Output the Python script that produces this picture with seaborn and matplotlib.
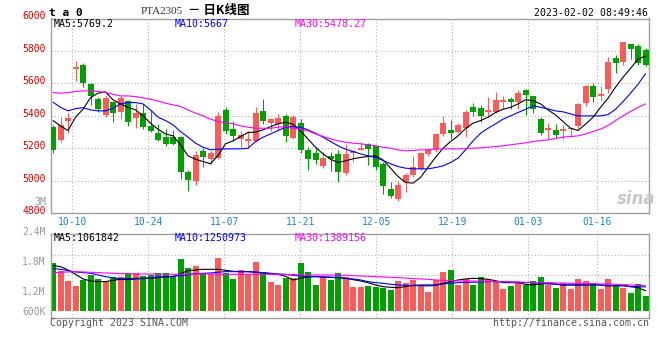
import numpy as np
import pandas as pd
import seaborn as sns
import matplotlib
matplotlib.use("Agg")
import matplotlib.pyplot as plt
from matplotlib.transforms import ScaledTranslation

# ---- daily K-line data, PTA2305 (Sep 29 2022 .. Feb 2 2023, 80 sessions)
opens = [5334, 5252, 5371, 5689, 5716, 5597, 5504, 5406, 5488, 5427, 5492, 5390, 5416, 5336, 5297, 5267,
         5267, 5267, 5053, 4996, 5184, 5137, 5143, 5437, 5320, 5258, 5246, 5246, 5433, 5359, 5349, 5400,
         5262, 5355, 5191, 5170, 5094, 5150, 5166, 5051, 5174, 5191, 5226, 5217, 5105, 4949, 4889, 4992,
         5033, 5072, 5166, 5197, 5289, 5314, 5303, 5328, 5453, 5447, 5427, 5427, 5488, 5504, 5488, 5560,
         5523, 5381, 5314, 5314, 5308, 5318, 5338, 5482, 5584, 5523, 5566, 5757, 5732, 5843, 5831, 5806]
highs = [5344, 5396, 5416, 5738, 5728, 5600, 5519, 5527, 5492, 5523, 5496, 5474, 5474, 5437, 5349, 5318,
         5314, 5277, 5068, 5182, 5201, 5184, 5426, 5453, 5369, 5308, 5308, 5453, 5504, 5390, 5412, 5412,
         5406, 5381, 5211, 5201, 5176, 5176, 5187, 5228, 5187, 5240, 5232, 5221, 5119, 4990, 5002, 5047,
         5150, 5180, 5201, 5297, 5400, 5375, 5355, 5437, 5482, 5465, 5515, 5548, 5523, 5519, 5560, 5566,
         5525, 5392, 5359, 5349, 5344, 5334, 5482, 5589, 5601, 5584, 5761, 5775, 5855, 5843, 5843, 5820]
lows = [5174, 5242, 5297, 5615, 5576, 5465, 5427, 5392, 5365, 5381, 5338, 5328, 5320, 5303, 5246, 5215,
        5219, 5012, 4940, 4975, 5088, 5105, 5137, 5287, 5246, 5211, 5211, 5242, 5351, 5310, 5314, 5242,
        5258, 5170, 5068, 5105, 5082, 5063, 4990, 5033, 5119, 5187, 5098, 5068, 4920, 4893, 4873, 4934,
        5022, 5068, 5150, 5180, 5277, 5258, 5293, 5273, 5400, 5365, 5396, 5420, 5441, 5441, 5441, 5406,
        5416, 5283, 5256, 5262, 5256, 5273, 5322, 5463, 5488, 5498, 5543, 5662, 5716, 5751, 5714, 5707]
closes = [5191, 5345, 5390, 5699, 5605, 5525, 5443, 5511, 5416, 5511, 5365, 5416, 5334, 5308, 5252, 5228,
          5226, 5057, 5006, 5160, 5148, 5170, 5400, 5310, 5277, 5283, 5258, 5420, 5371, 5379, 5390, 5277,
          5392, 5187, 5135, 5129, 5143, 5137, 5057, 5166, 5184, 5205, 5199, 5088, 4971, 4908, 4975, 5033,
          5088, 5170, 5187, 5289, 5359, 5297, 5344, 5427, 5427, 5400, 5437, 5498, 5498, 5488, 5543, 5529,
          5441, 5297, 5328, 5285, 5318, 5328, 5474, 5584, 5515, 5535, 5732, 5728, 5855, 5810, 5724, 5714]

# moving average lines as drawn on the chart
ma5 = [5371, 5338, 5310, 5392, 5441, 5513, 5540, 5548, 5499, 5474, 5453, 5437, 5400, 5355, 5318, 5289,
       5277, 5222, 5154, 5133, 5119, 5105, 5156, 5228, 5246, 5273, 5298, 5300, 5314, 5334, 5351, 5361,
       5349, 5308, 5257, 5207, 5166, 5133, 5113, 5123, 5136, 5144, 5150, 5154, 5129, 5078, 5027, 4990,
       4986, 5021, 5084, 5144, 5201, 5242, 5277, 5322, 5355, 5371, 5392, 5421, 5441, 5453, 5474, 5499,
       5494, 5474, 5437, 5406, 5365, 5324, 5310, 5349, 5392, 5453, 5509, 5577, 5638, 5693, 5749, 5769]
ma10 = [5484, 5453, 5431, 5445, 5451, 5437, 5431, 5431, 5447, 5474, 5482, 5482, 5474, 5437, 5392, 5371,
        5345, 5304, 5269, 5232, 5207, 5191, 5195, 5197, 5197, 5197, 5201, 5242, 5269, 5289, 5310, 5330,
        5334, 5330, 5314, 5293, 5269, 5242, 5216, 5195, 5181, 5166, 5154, 5144, 5125, 5105, 5088, 5078,
        5074, 5074, 5074, 5082, 5092, 5113, 5140, 5191, 5246, 5293, 5324, 5351, 5380, 5400, 5421, 5441,
        5462, 5453, 5443, 5431, 5425, 5412, 5400, 5400, 5400, 5400, 5408, 5441, 5488, 5540, 5595, 5660]
ma30 = [5544, 5540, 5544, 5550, 5554, 5554, 5550, 5544, 5533, 5523, 5523, 5519, 5511, 5503, 5492, 5478,
        5468, 5458, 5437, 5417, 5400, 5380, 5365, 5359, 5351, 5339, 5330, 5324, 5324, 5324, 5330, 5334,
        5324, 5318, 5308, 5289, 5273, 5259, 5246, 5238, 5232, 5228, 5222, 5216, 5207, 5201, 5191, 5185,
        5187, 5191, 5191, 5195, 5197, 5197, 5197, 5199, 5201, 5203, 5207, 5211, 5216, 5222, 5228, 5234,
        5242, 5248, 5252, 5261, 5269, 5273, 5277, 5289, 5304, 5318, 5341, 5371, 5400, 5427, 5453, 5474]

# volume (thousand lots) and its moving averages
volume = [1733, 1544, 1300, 1190, 1324, 1442, 1348, 1285, 1403, 1403, 1481, 1481, 1418, 1442, 1481, 1497,
          1403, 1819, 1615, 1662, 1497, 1465, 1851, 1481, 1348, 1560, 1465, 1756, 1520, 1285, 1206, 1363,
          1379, 1733, 1520, 1206, 1403, 1324, 1497, 1403, 1167, 1167, 1190, 1167, 1143, 1088, 1300, 1261,
          1324, 1190, 1049, 1324, 1520, 1560, 1206, 1348, 1206, 1387, 1348, 1300, 1112, 1182, 1285, 1206,
          1300, 1403, 1206, 1143, 1245, 1112, 1348, 1300, 1261, 1104, 1348, 1206, 1143, 1025, 1222, 954]
vol_ma5 = [1662, 1638, 1560, 1458, 1348, 1300, 1285, 1285, 1316, 1340, 1332, 1348, 1355, 1363, 1379, 1395,
           1403, 1473, 1544, 1560, 1575, 1575, 1575, 1552, 1528, 1520, 1520, 1505, 1489, 1473, 1458, 1410,
           1324, 1363, 1395, 1403, 1395, 1387, 1379, 1363, 1332, 1300, 1261, 1206, 1167, 1151, 1143, 1167,
           1198, 1206, 1206, 1206, 1245, 1285, 1324, 1348, 1363, 1355, 1340, 1308, 1261, 1261, 1261, 1222,
           1206, 1230, 1245, 1230, 1206, 1206, 1206, 1206, 1214, 1206, 1182, 1190, 1206, 1167, 1143, 1070]
vol_ma10 = [1591, 1575, 1544, 1513, 1497, 1481, 1442, 1403, 1371, 1355, 1355, 1363, 1363, 1379, 1395, 1403,
            1410, 1426, 1450, 1473, 1481, 1489, 1505, 1520, 1520, 1520, 1520, 1513, 1497, 1481, 1465, 1458,
            1434, 1418, 1403, 1403, 1395, 1387, 1379, 1363, 1348, 1324, 1285, 1261, 1245, 1222, 1206, 1198,
            1190, 1190, 1182, 1198, 1230, 1245, 1261, 1269, 1269, 1277, 1285, 1285, 1285, 1277, 1269, 1261,
            1261, 1245, 1230, 1222, 1206, 1206, 1206, 1206, 1206, 1206, 1198, 1190, 1182, 1167, 1167, 1159]
vol_ma30 = [1497, 1505, 1513, 1520, 1513, 1505, 1497, 1489, 1481, 1473, 1473, 1465, 1465, 1465, 1458, 1458,
            1458, 1458, 1465, 1465, 1465, 1465, 1458, 1458, 1458, 1458, 1458, 1458, 1458, 1458, 1458, 1450,
            1450, 1442, 1442, 1442, 1442, 1442, 1434, 1434, 1426, 1418, 1410, 1403, 1395, 1387, 1379, 1371,
            1355, 1348, 1340, 1324, 1316, 1308, 1300, 1300, 1300, 1292, 1292, 1285, 1285, 1277, 1277, 1269,
            1269, 1261, 1261, 1253, 1253, 1245, 1245, 1237, 1237, 1230, 1230, 1222, 1214, 1206, 1198, 1190]

date_labels = ["10-10", "10-24", "11-07", "11-21", "12-05", "12-19", "01-03", "01-16"]
date_idx = [2, 12, 22, 32, 42, 52, 62, 71]

RED = "#ff5a5a"
GREEN = "#00a000"
GRID = "#b4b4b4"
FRAME = "#a0a0a0"

sns.set_theme(style="white")
plt.rcParams["font.family"] = ["DejaVu Sans Mono", "Noto Sans CJK SC"]

W, H = 660, 360
fig = plt.figure(figsize=(6.6, 3.6), dpi=100)


def fx(x):
    return x / W


def fy(y):
    return 1 - y / H


ax = fig.add_axes([fx(50.7), fy(213.3), fx(649.3 - 50.7), (213.3 - 18.5) / H])
axv = fig.add_axes([fx(50.7), fy(317.7), fx(649.3 - 50.7), (317.7 - 234.3) / H])

df = pd.DataFrame({"open": opens, "high": highs, "low": lows, "close": closes,
                   "vol": volume})
df["i"] = np.arange(len(df))
df["color"] = np.where(df["close"] >= df["open"], RED, GREEN)
df["body_lo"] = df[["open", "close"]].min(axis=1)
df["body_h"] = (df["close"] - df["open"]).abs().clip(lower=5)

# sina's grid step is 7.6 px while the candles are 7.5 px apart
grid_x = np.array(date_idx) * 7.6 / 7.5 + 0.54
xlim = (-0.31, 79.5)

# ---- price panel
ax.vlines(df["i"], df["low"], df["high"], colors=df["color"], linewidth=0.75, zorder=2)
ax.bar(df["i"], df["body_h"], bottom=df["body_lo"], width=0.8, color=df["color"],
       linewidth=0, zorder=3)
for vals, col in [(ma5, "black"), (ma10, "#0000ff"), (ma30, "#ff00ff")]:
    sns.lineplot(x=df["i"], y=vals, ax=ax, color=col, linewidth=0.8, zorder=4)

ax.set_xlim(*xlim)
ax.set_ylim(4800, 6000)
ax.set_yticks(range(4800, 6001, 200))
ax.set_xticks(grid_x)
ax.set_xticklabels(date_labels)
ax.set_xlabel("")
ax.set_ylabel("")
ax.grid(True, color=GRID, linestyle=(0, (1, 2)), linewidth=0.8)
ax.set_axisbelow(True)
ax.tick_params(axis="y", length=0, pad=3.5, labelsize=7, labelcolor="#e00000")
ax.tick_params(axis="x", length=0, pad=2.5, labelsize=7, labelcolor="#1a86c8")

# ---- volume panel
axv.bar(df["i"], df["vol"] - 600, bottom=600, width=0.8, color=df["color"], linewidth=0, zorder=2)
for vals, col in [(vol_ma5, "black"), (vol_ma10, "#0000ff"), (vol_ma30, "#ff00ff")]:
    sns.lineplot(x=df["i"], y=vals, ax=axv, color=col, linewidth=0.8, zorder=4)

axv.set_xlim(*xlim)
axv.set_ylim(435, 2400)
axv.set_xticks(grid_x)
axv.set_xticklabels([])
axv.set_yticks([2400, 1708, 1001, 529])
axv.set_yticklabels(["2.4M", "1.8M", "1.2M", "600K"])
axv.set_yticks([1914, 1442, 954], minor=True)
axv.set_xlabel("")
axv.set_ylabel("")
axv.xaxis.grid(True, which="major", color=GRID, linestyle=(0, (1, 2)), linewidth=0.8)
axv.yaxis.grid(True, which="minor", color=GRID, linestyle=(0, (1, 2)), linewidth=0.8)
axv.set_axisbelow(True)
axv.tick_params(axis="both", which="both", length=0)
axv.tick_params(axis="y", pad=3.5, labelsize=7, labelcolor="#999999")

for a in (ax, axv):
    for s in a.spines.values():
        s.set_color(FRAME)
        s.set_linewidth(1.0)
    a.set_facecolor("white")
    # labels sit a few pixels above their grid line
    up = ScaledTranslation(0, 0.03, fig.dpi_scale_trans)
    for lab in a.get_yticklabels():
        lab.set_transform(lab.get_transform() + up)

# ---- texts
fs = 7.1
fig.text(fx(49), fy(16), "t a 0", fontsize=8, fontweight="bold", color="black", va="baseline")
fig.text(fx(140.5), fy(13.5), "PTA2305", fontsize=8, family="Liberation Serif", color="#333333",
         va="baseline")
fig.text(fx(188), fy(14), "－ 日K线图", fontsize=9, fontweight="bold", family="Noto Sans CJK SC",
         color="black", va="baseline")
fig.text(fx(648), fy(15.7), "2023-02-02 08:49:46", fontsize=fs, color="black", ha="right",
         va="baseline")

fig.text(fx(54), fy(26.7), "MA5:5769.2", fontsize=fs, color="black", va="baseline")
fig.text(fx(175), fy(26.7), "MA10:5667", fontsize=fs, color="#0000ff", va="baseline")
fig.text(fx(295), fy(26.7), "MA30:5478.27", fontsize=fs, color="#ff00ff", va="baseline")

fig.text(fx(54), fy(241), "MA5:1061842", fontsize=fs, color="black", va="baseline")
fig.text(fx(175), fy(241), "MA10:1250973", fontsize=fs, color="#0000ff", va="baseline")
fig.text(fx(295), fy(241), "MA30:1389156", fontsize=fs, color="#ff00ff", va="baseline")

fig.text(fx(46.5), fy(205), "3M", fontsize=fs, color="#999999", ha="right", va="baseline")

fig.text(fx(50), fy(326), "Copyright 2023 SINA.COM", fontsize=fs, color="#555555", va="baseline")
fig.text(fx(649), fy(326), "http://finance.sina.com.cn", fontsize=fs, color="#555555", ha="right",
         va="baseline")

# sina watermark
fig.text(fx(636), fy(199), "sina", fontsize=12, fontstyle="italic", fontweight="bold",
         family="DejaVu Sans", color="#c8c8c8", ha="center", va="center")

fig.savefig("out.png", dpi=100)
